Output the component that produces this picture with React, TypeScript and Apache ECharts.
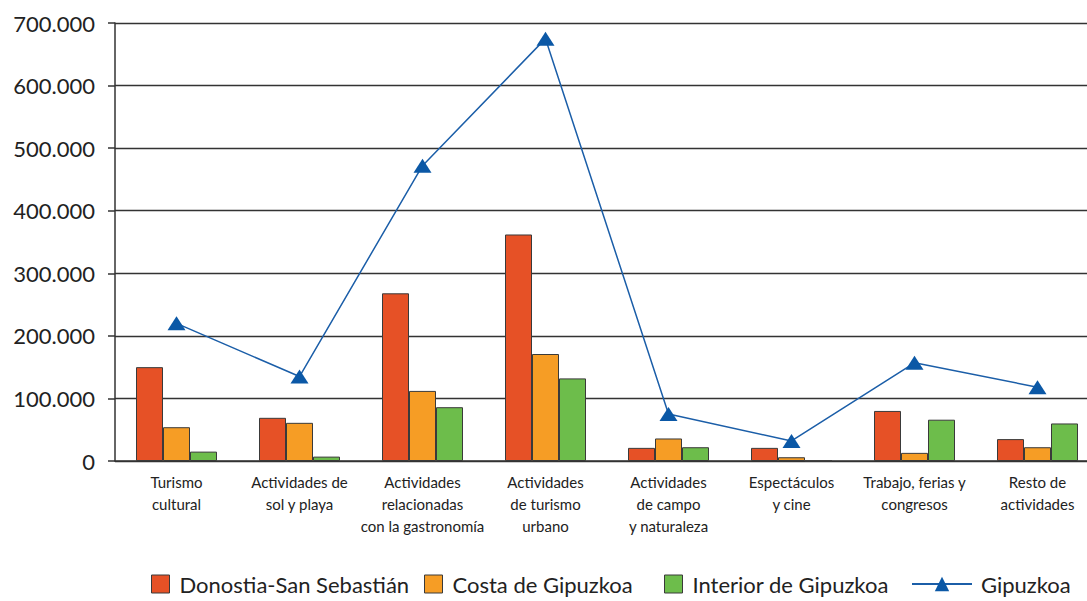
import React, { useEffect, useRef } from "react";
import * as echarts from "echarts";

const categories = [
  "Turismo\ncultural",
  "Actividades de\nsol y playa",
  "Actividades\nrelacionadas\ncon la gastronomía",
  "Actividades\nde turismo\nurbano",
  "Actividades\nde campo\ny naturaleza",
  "Espectáculos\ny cine",
  "Trabajo, ferias y\ncongresos",
  "Resto de\nactividades",
];

const donostia = [150000, 69000, 268000, 362000, 21000, 21000, 80000, 35000];
const costa = [54000, 61000, 112000, 171000, 36000, 6000, 13000, 22000];
const interior = [15000, 7000, 86000, 132000, 22000, 0, 66000, 60000];
const gipuzkoa = [220000, 135000, 472000, 675000, 75000, 32000, 157000, 118000];

const seriesNames = [
  "Donostia-San Sebastián",
  "Costa de Gipuzkoa",
  "Interior de Gipuzkoa",
  "Gipuzkoa",
];

const FONT = "Lato, 'Open Sans', sans-serif";

export default function App() {
  const ref = useRef<HTMLDivElement>(null);
  useEffect(() => {
    if (!ref.current) return;
    const chart = echarts.init(ref.current, undefined, { renderer: "svg" });
    const barStyle = (color: string) => ({
      color,
      borderColor: "#3a3a3a",
      borderWidth: 1,
    });
    const legendText = {
      fontSize: 22,
      color: "#222",
      fontFamily: FONT,
      padding: [0, 0, 0, 5],
    };
    const legendLefts = [146, 419, 659];
    const barLegends = [0, 1, 2].map((i) => ({
      left: legendLefts[i],
      bottom: 1,
      itemWidth: 18,
      itemHeight: 18,
      icon: "rect",
      textStyle: legendText,
      data: [
        {
          name: seriesNames[i],
          itemStyle: { borderColor: "#3a3a3a", borderWidth: 1 },
        },
      ],
    }));
    chart.setOption({
      animation: false,
      backgroundColor: "#ffffff",
      textStyle: { fontFamily: FONT },
      grid: { left: 115, right: 1, top: 23, bottom: 140, containLabel: false },
      legend: [
        ...barLegends,
        {
          left: 906,
          bottom: 1,
          itemWidth: 60,
          itemHeight: 18,
          textStyle: { ...legendText, padding: [0, 0, 0, 4] },
          data: [{ name: seriesNames[3] }],
        },
      ],
      xAxis: {
        type: "category",
        data: categories,
        axisLine: { show: true, lineStyle: { color: "#333", width: 1.5 } },
        axisTick: { show: false },
        axisLabel: {
          interval: 0,
          fontSize: 15,
          lineHeight: 22,
          color: "#222",
          margin: 10,
          fontFamily: FONT,
        },
      },
      yAxis: {
        type: "value",
        min: 0,
        max: 700000,
        interval: 100000,
        axisLine: { show: true, lineStyle: { color: "#333", width: 1.5 } },
        axisTick: { show: true, length: 7, lineStyle: { color: "#333", width: 1.5 } },
        splitLine: { show: true, lineStyle: { color: "#333", width: 1.3 } },
        axisLabel: {
          fontSize: 22,
          color: "#222",
          margin: 20,
          fontFamily: FONT,
          formatter: (v: number) =>
            v === 0 ? "0" : (v / 1000).toFixed(0) + ".000",
        },
      },
      series: [
        {
          name: seriesNames[0],
          type: "bar",
          data: donostia,
          barWidth: 27,
          barGap: "0%",
          itemStyle: barStyle("#e65126"),
        },
        {
          name: seriesNames[1],
          type: "bar",
          data: costa,
          barWidth: 27,
          barGap: "0%",
          itemStyle: barStyle("#f69d25"),
        },
        {
          name: seriesNames[2],
          type: "bar",
          data: interior,
          barWidth: 27,
          barGap: "0%",
          itemStyle: barStyle("#6dbd4b"),
        },
        {
          name: seriesNames[3],
          type: "line",
          data: gipuzkoa,
          symbol: "triangle",
          symbolSize: [18, 14],
          lineStyle: { color: "#1b5ea8", width: 1.5 },
          itemStyle: { color: "#0b58a6" },
          z: 5,
        },
      ],
    });
    return () => chart.dispose();
  }, []);
  return (
    <div
      style={{
        position: "fixed",
        left: 0,
        top: 0,
        width: 1087,
        height: 601,
        overflow: "hidden",
      }}
    >
      <div ref={ref} style={{ width: 1100, height: 601 }} />
    </div>
  );
}
